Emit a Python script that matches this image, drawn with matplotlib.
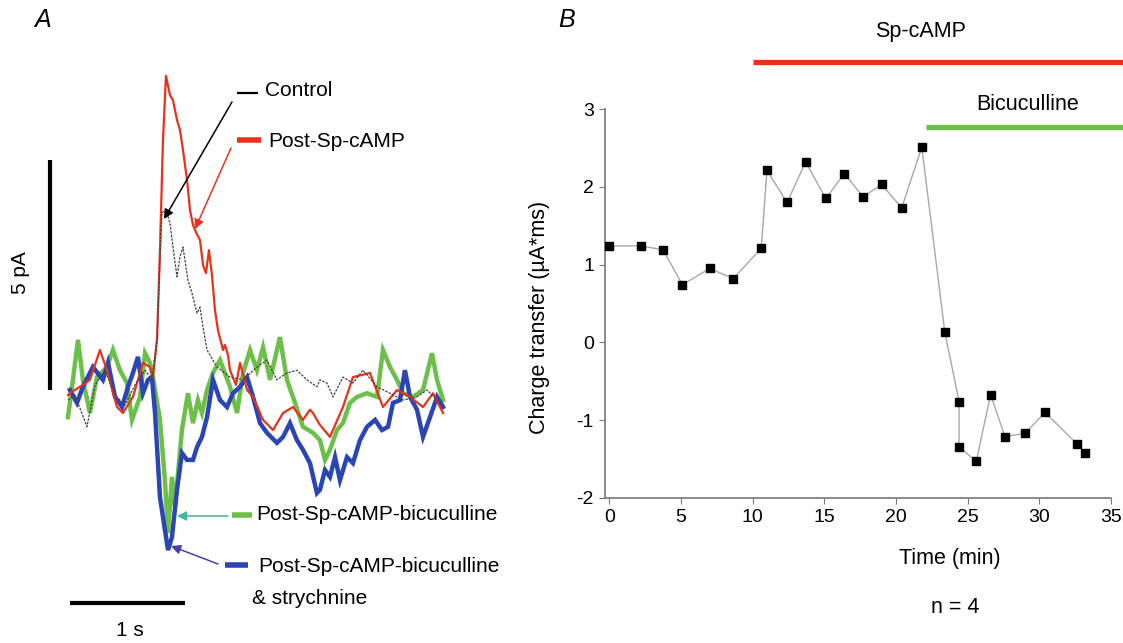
import matplotlib
matplotlib.use("Agg")
import matplotlib.pyplot as plt
from matplotlib.lines import Line2D

plt.rcParams['font.family'] = ['Liberation Sans', 'DejaVu Sans']
plt.rcParams['axes.unicode_minus'] = False

# ---- panel A: averaged current traces (time in ms, current in pA) ----
ctrl_t = [0, 61, 165, 235, 322, 409, 496, 583, 670, 730, 774, 800, 817, 852, 887,
          913, 948, 974, 1000, 1043, 1078, 1122, 1148, 1174, 1209, 1235, 1296, 1409,
          1522, 1643, 1730, 1817, 1904, 1991, 2078, 2165, 2191, 2252, 2304, 2391,
          2478, 2565, 2687, 2800, 2913, 3035, 3122, 3209, 3261]
ctrl_i = [-0.22, -0.11, -0.80, 0.11, 0.43, -0.11, -0.33, 0.11, 0.43, 0.22, 1.09, 2.83,
          3.85, 3.91, 3.63, 3.11, 2.46, 2.89, 3.11, 2.39, 2.11, 1.67, 1.80, 1.37, 0.87,
          0.76, 0.50, 0.28, 0.22, 0.50, 0.65, 0.22, 0.37, 0.43, 0.22, 0.07, 0.22, 0.15,
          -0.15, 0.28, 0.15, 0.43, 0.07, -0.07, -0.22, -0.15, 0, -0.22, -0.37]

sp_t = [0, 17, 104, 191, 278, 339, 426, 478, 565, 652, 713, 739, 774, 800, 826, 852,
        887, 913, 948, 974, 1000, 1035, 1061, 1087, 1113, 1148, 1174, 1200, 1226, 1252,
        1278, 1304, 1348, 1365, 1391, 1409, 1461, 1496, 1557, 1609, 1696, 1783, 1870,
        1957, 2043, 2104, 2130, 2191, 2278, 2391, 2478, 2626, 2739, 2861, 2974, 3087,
        3174, 3261]
sp_i = [-0.11, -0.07, 0.07, 0.22, 0.87, 0.43, -0.37, -0.50, -0.15, 0.59, 0.50, 0.28,
        1.09, 3.04, 5.43, 6.83, 6.41, 6.30, 5.87, 5.65, 5.22, 4.57, 3.91, 3.59, 3.43,
        3.26, 2.72, 2.54, 3.04, 2.50, 1.74, 1.30, 0.87, 0.98, 0.76, 0.43, 0.11, 0.59, 0,
        -0.15, -0.65, -0.87, -0.50, -0.37, -0.65, -0.43, -0.50, -0.76, -1.02, -0.37,
        0.28, 0.37, -0.37, 0, -0.15, -0.37, -0.07, -0.50]

bic_t = [0, 43, 87, 130, 191, 252, 339, 391, 452, 513, 557, 626, 670, 713, 739, 800,
         843, 870, 904, 930, 991, 1043, 1087, 1130, 1165, 1209, 1261, 1322, 1409, 1470,
         1522, 1583, 1643, 1696, 1757, 1843, 1904, 1974, 2043, 2130, 2191, 2235, 2278,
         2339, 2391, 2452, 2513, 2600, 2687, 2739, 2800, 2861, 2913, 3000, 3087, 3165,
         3209, 3261]
bic_i = [-0.59, 0.22, 1.09, 0.22, -0.50, 0.28, 0.50, 0.87, 0.43, 0.15, -0.65, -0.15,
         0.80, 0.59, 0.28, -0.65, -1.96, -3.11, -1.89, -2.54, -0.87, -0.07, -0.72, -0.22,
         -0.50, 0, 0.37, 0.65, 0.07, -0.50, 0.37, 0.87, 0.43, 0.93, 0.22, 1.15, 0.22,
         -0.28, -0.80, -0.93, -1.09, -1.52, -1.30, -0.87, -0.72, -0.28, -0.15, -0.07,
         -0.15, 0.87, 0.50, 0.22, -0.07, -0.15, 0, 0.80, 0.22, -0.22]

stry_t = [17, 78, 130, 217, 304, 348, 409, 470, 522, 565, 609, 652, 696, 730, 757, 800,
          843, 870, 904, 948, 991, 1035, 1087, 1122, 1165, 1209, 1261, 1322, 1383, 1435,
          1496, 1557, 1609, 1670, 1730, 1817, 1870, 1930, 1991, 2043, 2104, 2165, 2191,
          2235, 2278, 2322, 2365, 2426, 2478, 2539, 2600, 2670, 2730, 2783, 2826, 2887,
          2930, 2974, 3035, 3087, 3148, 3209, 3261]
stry_i = [0, -0.28, 0.07, 0.50, 0.22, 0.59, -0.15, -0.37, 0.07, 0.37, 0.72, -0.07, 0.22,
          0.28, -0.50, -2.33, -3.04, -3.48, -3.20, -2.17, -1.37, -1.52, -1.52, -1.24,
          -1.02, -0.59, 0.22, -0.22, -0.37, -0.07, 0.07, 0.28, -0.15, -0.72, -0.93, -1.15,
          -1.02, -0.72, -1.09, -1.30, -1.59, -2.24, -2.17, -1.74, -1.89, -1.46, -1.96,
          -1.46, -1.59, -1.09, -0.80, -0.65, -0.87, -0.80, -0.28, -0.22, 0.43, -0.15,
          -0.43, -1.02, -0.59, -0.15, -0.37]

# ---- panel B: charge transfer over time ----
time_min = [0, 2.2, 3.75, 5.1, 7.0, 8.65, 10.6, 11.0, 12.4, 13.7, 15.1, 16.4, 17.7,
            19.0, 20.4, 21.8, 23.4, 24.4, 24.4, 25.6, 26.6, 27.6, 29.0, 30.4, 32.6, 33.2]
charge = [1.24, 1.24, 1.19, 0.74, 0.95, 0.82, 1.21, 2.21, 1.80, 2.32, 1.85, 2.17, 1.87,
          2.03, 1.73, 2.51, 0.14, -0.76, -1.34, -1.53, -0.67, -1.21, -1.17, -0.90,
          -1.30, -1.42]
sp_start = 10.0
bic_start = 22.1

RED = '#e8321c'
GREEN = '#6cc04a'
BLUE = '#2b45b5'
W, H = 1123, 643
FS = 15


def fp(x, y):
    # pixel (from top-left) -> figure fraction
    return x / W, 1 - y / H


fig = plt.figure(figsize=(W / 100, H / 100), dpi=100)

# ---------------- panel A ----------------
axa = fig.add_axes([0, 0, 505 / W, 1])
axa.set_xlim(-591, 3800)
axa.set_ylim(-5.5, 8.478)
axa.axis('off')

axa.plot(bic_t, bic_i, color=GREEN, lw=3.2, solid_joinstyle='miter')
axa.plot(stry_t, stry_i, color=BLUE, lw=3.2, solid_joinstyle='miter')
axa.plot(sp_t, sp_i, color=RED, lw=1.6)
axa.plot(ctrl_t, ctrl_i, color='#444444', lw=0.9, ls=(0, (2, 1)))

# scale bars: 5 pA and 1 s
axa.plot([-156, -156], [0, 5], color='black', lw=3, solid_capstyle='butt')
axa.plot([17, 1017], [-4.63, -4.63], color='black', lw=3, solid_capstyle='butt')
fig.text(*fp(20, 273), '5 pA', rotation=90, ha='center', va='center', fontsize=FS)
fig.text(*fp(130, 630), '1 s', ha='center', va='center', fontsize=FS)

# trace labels with short colour keys
keys = [
    ((237, 258, 93), 'black', 1.6, (265, 91), 'Control'),
    ((237, 261, 140), RED, 4, (268, 141), 'Post-Sp-cAMP'),
    ((232, 252, 515), GREEN, 4, (256, 515), 'Post-Sp-cAMP-bicuculline'),
    ((225, 248, 565), BLUE, 4, (258, 566), 'Post-Sp-cAMP-bicuculline'),
]
for (x1, x2, yk), col, w, (tx, ty), label in keys:
    fig.add_artist(Line2D([x1 / W, x2 / W], [1 - yk / H, 1 - yk / H],
                          transform=fig.transFigure, color=col, lw=w,
                          solid_capstyle='butt'))
    fig.text(*fp(tx, ty), label, ha='left', va='center', fontsize=FS)
fig.text(*fp(252, 598), '& strychnine', ha='left', va='center', fontsize=FS)

arrows = [
    ((232, 102), (164, 219), 'black'),
    ((231, 148), (195, 229), RED),
    ((228, 516), (177, 516), '#45b39d'),
    ((218, 564), (171, 546), '#4a3fa8'),
]
for start, end, col in arrows:
    axa.annotate('', xy=fp(*end), xytext=fp(*start), xycoords='figure fraction',
                 textcoords='figure fraction',
                 arrowprops=dict(arrowstyle='-|>', color=col, lw=1.1,
                                 mutation_scale=14, shrinkA=0, shrinkB=0))

fig.text(*fp(43, 20), 'A', ha='center', va='center', fontsize=18, style='italic')
fig.text(*fp(567, 20), 'B', ha='center', va='center', fontsize=18, style='italic')

# ---------------- panel B ----------------
axb = fig.add_axes([605 / W, 1 - 498 / H, 506 / W, 389 / H])
axb.plot(time_min, charge, color='#a8a8a8', lw=1, marker='s', ms=5.5,
         mfc='black', mec='black', zorder=3, clip_on=False)
axb.set_xlim(-0.3, 35)
axb.set_ylim(-2, 3)
axb.set_xticks(range(0, 36, 5))
axb.set_yticks(range(-2, 4))
for s in ['top', 'right']:
    axb.spines[s].set_visible(False)
for s in ['left', 'bottom']:
    axb.spines[s].set_color('#777777')
    axb.spines[s].set_linewidth(1.2)
axb.tick_params(labelsize=14, length=4, color='#777777', pad=4)
axb.set_xlabel('Time (min)', fontsize=15.5)
axb.set_ylabel('Charge transfer (\u00b5A*ms)', fontsize=15.5)
axb.xaxis.set_label_coords(0.682, -0.128)
axb.yaxis.set_label_coords(-0.109, 0.465)

# treatment bars
axb.plot([sp_start, 36.5], [3.6, 3.6], color=RED, lw=3.8, clip_on=False,
         solid_capstyle='butt')
axb.plot([bic_start, 36.5], [2.77, 2.77], color=GREEN, lw=3.8, clip_on=False,
         solid_capstyle='butt')
axb.text(21.7, 3.99, 'Sp-cAMP', ha='center', va='center', fontsize=15.5)
axb.text(29.2, 3.06, 'Bicuculline', ha='center', va='center', fontsize=15.5)
axb.text(24.1, -3.41, 'n = 4', ha='center', va='center', fontsize=15.5)

fig.savefig('out.png', dpi=100)
